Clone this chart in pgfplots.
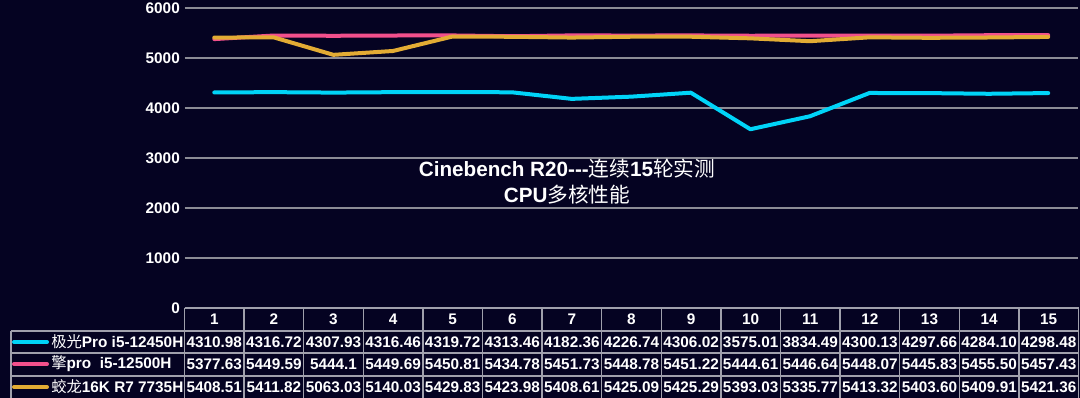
\documentclass[border=0pt]{standalone}
\usepackage{pgfplots}
\pgfplotsset{compat=1.18}
\usepackage{pgfplotstable}
\usepackage{fontspec}
\setmainfont{Liberation Sans}
\newfontfamily\cjk{Noto Sans CJK SC}
\definecolor{bg}{HTML}{050322}
\definecolor{cy}{HTML}{00D4F8}
\definecolor{pk}{HTML}{F2508C}
\definecolor{gd}{HTML}{E3AC34}
\definecolor{gridc}{HTML}{8C8C96}
\definecolor{cellc}{HTML}{A0A0AC}
\newcommand\tf{\bfseries\fontsize{11.5}{13}\selectfont}

\pgfplotstableread{
x a b c
1 4310.98 5377.63 5408.51
2 4316.72 5449.59 5411.82
3 4307.93 5444.1 5063.03
4 4316.46 5449.69 5140.03
5 4319.72 5450.81 5429.83
6 4313.46 5434.78 5423.98
7 4182.36 5451.73 5408.61
8 4226.74 5448.78 5425.09
9 4306.02 5451.22 5425.29
10 3575.01 5444.61 5393.03
11 3834.49 5446.64 5335.77
12 4300.13 5448.07 5413.32
13 4297.66 5445.83 5403.60
14 4284.10 5455.50 5409.91
15 4298.48 5457.43 5421.36
}\data

\begin{document}
\begin{tikzpicture}
\begin{scope}[x=0.75pt,y=0.75pt]
\fill[bg] (0,0) rectangle (1080,398);
\end{scope}
\begin{axis}[at={(138.375pt,67.5pt)}, anchor=south west, scale only axis,
  width=670.125pt, height=225pt,
  xmin=0.5, xmax=15.5, ymin=0, ymax=6000,
  ytick={0,1000,...,6000}, xtick=\empty,
  ymajorgrids, grid style={gridc, line width=1.1pt},
  axis line style={draw=none}, major tick length=0pt,
  yticklabel style={font=\tf, text=white},
  /pgf/number format/assume math mode=true,
  /pgf/number format/set thousands separator={},
  clip=false]
\addplot[cy, line width=3pt, line cap=round, line join=round] table[x=x,y=a]{\data};
\addplot[pk, line width=3pt, line cap=round, line join=round] table[x=x,y=b]{\data};
\addplot[gd, line width=3pt, line cap=round, line join=round] table[x=x,y=c]{\data};
\end{axis}
\begin{scope}[x=0.75pt,y=0.75pt]
% title
\node[white, font=\bfseries\fontsize{15.5}{18}\selectfont] at (567,229) {Cinebench R20-{}-{}-{\cjk\mdseries 连续}15{\cjk\mdseries 轮实测}};
\node[white, font=\bfseries\fontsize{15.5}{18}\selectfont] at (567,203) {CPU{\cjk\mdseries 多核性能}};
% table grid
\begin{scope}[cellc, line width=1.1pt]
\draw (184.5,90) -- (1078.5,90);
\draw (11,67) -- (1078.5,67);
\draw (11,45) -- (1078.5,45);
\draw (11,22) -- (1078.5,22);
\draw (11,67) -- (11,0);
\foreach \k in {0,...,15} {\draw ({184.5+\k*59.6},90) -- ({184.5+\k*59.6},0);}
\end{scope}
% header
\foreach \i in {1,...,15} {\node[white, font=\tf] at ({184.5+(\i-0.5)*59.6},79) {\i};}
% legend
\draw[cy, line width=3pt, line cap=round] (14,56) -- (47,56);
\draw[pk, line width=3pt, line cap=round] (14,34) -- (47,34);
\draw[gd, line width=3pt, line cap=round] (14,11) -- (47,11);
\node[white, font=\tf, anchor=west, inner sep=0pt] at (51,56) {{\cjk\mdseries 极光}Pro i5-12450H};
\node[white, font=\tf, anchor=west, inner sep=0pt] at (51,34) {{\cjk\mdseries 擎}pro\ \ i5-12500H};
\node[white, font=\tf, anchor=west, inner sep=0pt] at (51,11) {{\cjk\mdseries 蛟龙}16K R7 7735H};
% values
\foreach \v [count=\i] in {4310.98,4316.72,4307.93,4316.46,4319.72,4313.46,4182.36,4226.74,4306.02,3575.01,3834.49,4300.13,4297.66,4284.10,4298.48}
  {\node[white, font=\tf, inner sep=0pt] at ({184.5+(\i-0.5)*59.6},56) {\v};}
\foreach \v [count=\i] in {5377.63,5449.59,5444.1,5449.69,5450.81,5434.78,5451.73,5448.78,5451.22,5444.61,5446.64,5448.07,5445.83,5455.50,5457.43}
  {\node[white, font=\tf, inner sep=0pt] at ({184.5+(\i-0.5)*59.6},34) {\v};}
\foreach \v [count=\i] in {5408.51,5411.82,5063.03,5140.03,5429.83,5423.98,5408.61,5425.09,5425.29,5393.03,5335.77,5413.32,5403.60,5409.91,5421.36}
  {\node[white, font=\tf, inner sep=0pt] at ({184.5+(\i-0.5)*59.6},11) {\v};}
\end{scope}
\pgfresetboundingbox
\path (0,0) rectangle (810pt,298.5pt);
\end{tikzpicture}
\end{document}
